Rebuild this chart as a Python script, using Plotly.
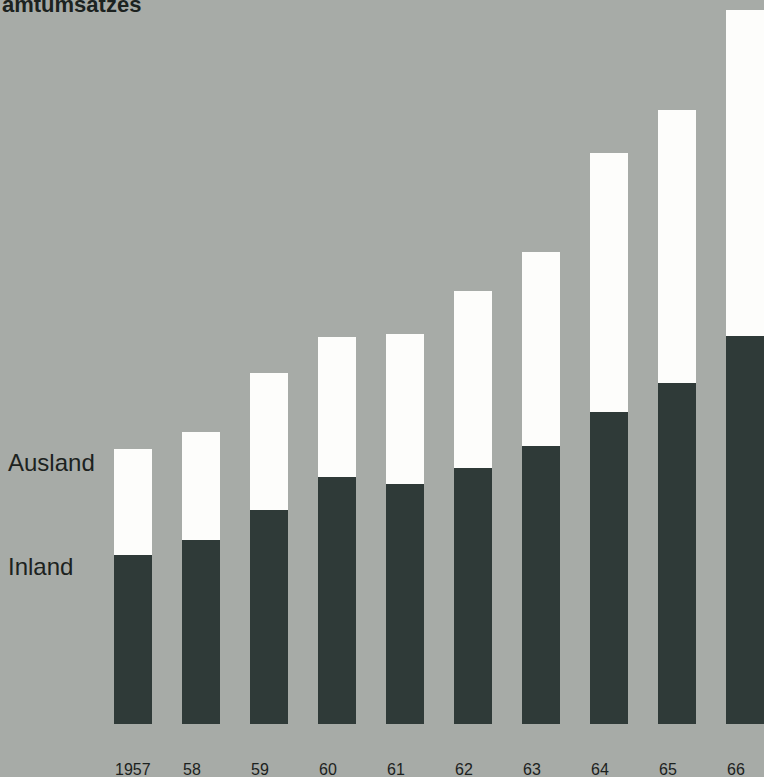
import plotly.graph_objects as go

# Jahre und Anteile (Inland / Ausland) am Gesamtumsatz
years = ["1957", "58", "59", "60", "61", "62", "63", "64", "65", "66"]
inland = [169, 184, 214, 247, 240, 256, 278, 312, 341, 388]
ausland = [106, 108, 137, 140, 150, 177, 194, 259, 273, 326]

bg = "#a7aba7"
dark = "#2f3a38"
light = "#fdfdfb"
ink = "#1c2220"

xs = list(range(len(years)))

fig = go.Figure()
fig.add_trace(go.Bar(x=xs, y=inland, width=0.56, marker=dict(color=dark, line=dict(width=0)),
                     name="Inland", showlegend=False))
fig.add_trace(go.Bar(x=xs, y=ausland, width=0.56, marker=dict(color=light, line=dict(width=0)),
                     name="Ausland", showlegend=False))

W, H = 764, 777
x0_px, step_px = 133, 68
base_px = 724

fig.update_layout(
    barmode="stack",
    width=W, height=H,
    margin=dict(l=0, r=0, t=0, b=0),
    paper_bgcolor=bg, plot_bgcolor=bg,
    xaxis=dict(range=[-x0_px / step_px, (W - x0_px) / step_px], visible=False, fixedrange=True),
    yaxis=dict(range=[-(H - base_px), base_px], visible=False, fixedrange=True),
    font=dict(family="Liberation Sans, Arial, sans-serif", color=ink),
)

# Jahreszahlen unter den Säulen
for i, yr in enumerate(years):
    fig.add_annotation(x=i - 0.30, y=-(769 - base_px), xref="x", yref="y", text=yr,
                       showarrow=False, xanchor="left", yanchor="middle",
                       font=dict(family="Liberation Sans Narrow, Liberation Sans, Arial", size=16, color=ink))

# Legendenbeschriftung links
fig.add_annotation(x=6 / W, y=1 - 463 / H, xref="paper", yref="paper", text="Ausland",
                   showarrow=False, xanchor="left", yanchor="middle", font=dict(size=24, color=ink))
fig.add_annotation(x=6 / W, y=1 - 566 / H, xref="paper", yref="paper", text="Inland",
                   showarrow=False, xanchor="left", yanchor="middle", font=dict(size=24, color=ink))

# Überschrift (oben angeschnitten)
fig.add_annotation(x=0, y=1 - 4 / H, xref="paper", yref="paper", text="<b>amtumsatzes</b>",
                   showarrow=False, xanchor="left", yanchor="middle", font=dict(size=22, color=ink))

fig.write_html("out.html")
